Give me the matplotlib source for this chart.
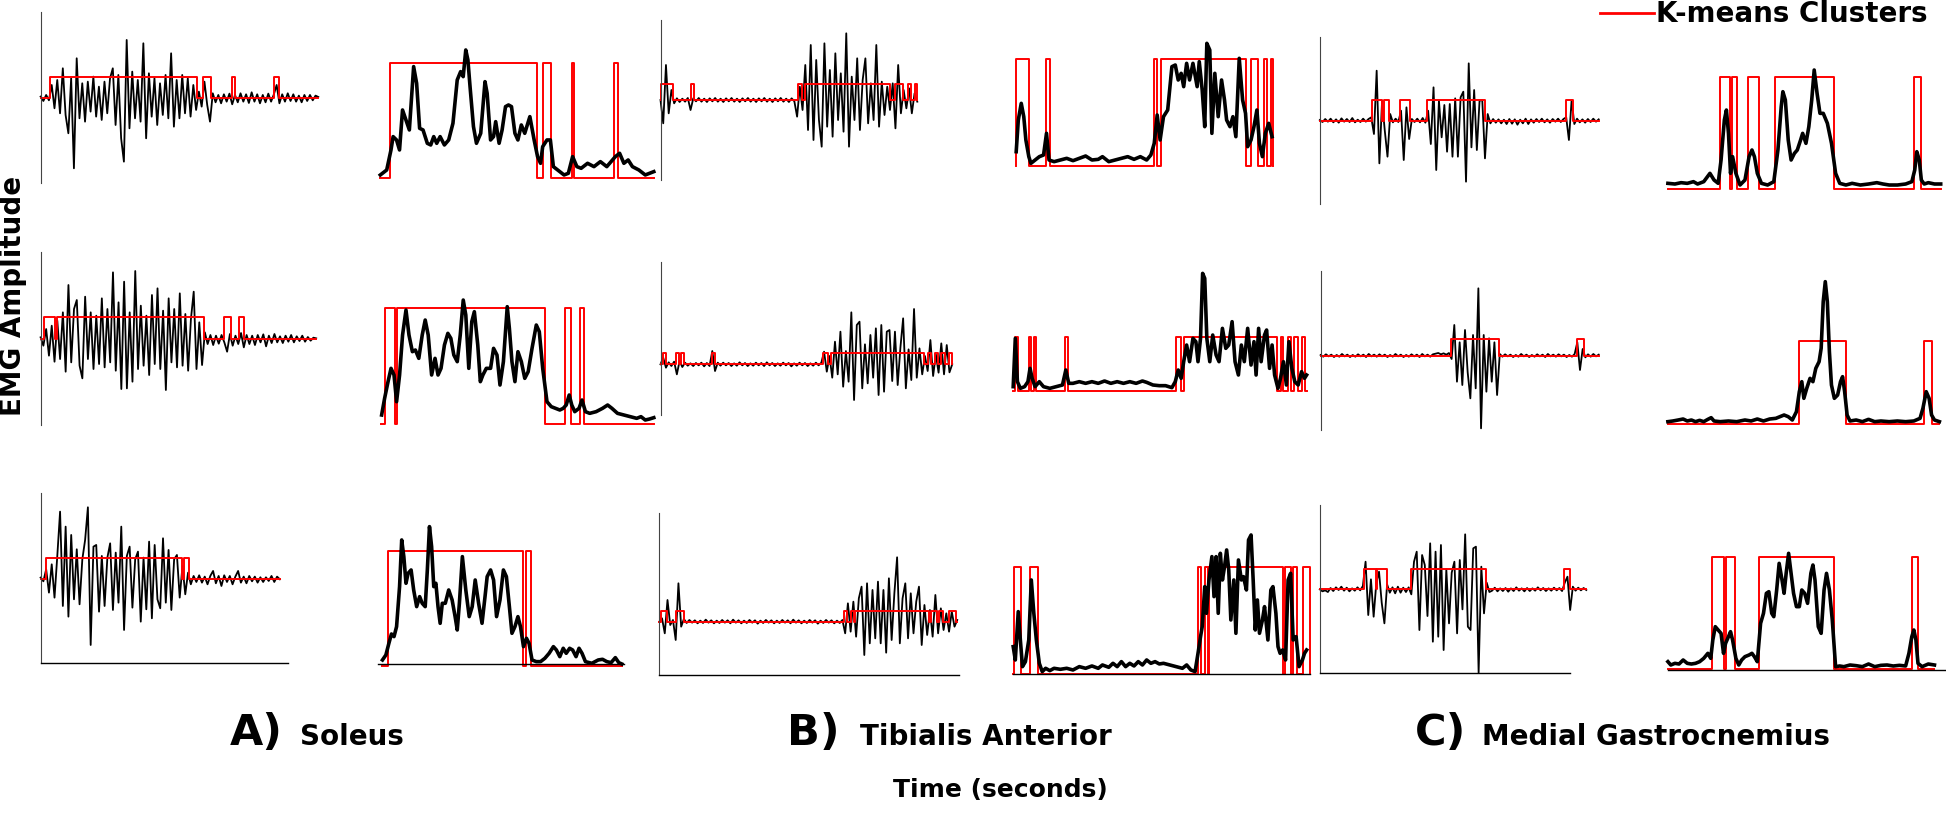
import numpy as np
import matplotlib
matplotlib.use("Agg")
from matplotlib import pyplot as plt
from matplotlib.lines import Line2D

W, H = 1946, 814   # output size in pixels (dpi 100)

# ---------------- data (arbitrary amplitude units, time in ms from trace start) ----------------
# Soleus
sol1_raw = [5, -8, 10, -6, 40, -30, 55, -45, 90, -50, -105, 60, -210, 120, -60, 45, -70, 50, -40, 65,
            -55, 35, -65, 50, -45, 60, 90, -80, 70, -120, -190, 175, -90, 80, -60, 55, -70, 165, -120, 75,
            -55, 60, -80, 45, -50, 70, -60, 135, -85, 55, -60, 70, -45, 60, -55, 40, -35, 20, -25, 50,
            -20, -70, 15, -12, 10, -15, 12, -10, 14, -18, 10, -12, 15, -10, 12, -14, 18, -10, 12, -15,
            10, -12, 14, -10, 12, 40, -15, 12, -10, 15, -8, 12, -10, 8, -12, 10, -8, 10, -6, 8, 4]
sol1_on = [(23, 367), (380, 400), (449, 454), (547, 557)]
sol1_env_t = [0, 15, 25, 30, 38, 45, 52, 60, 68, 78, 85, 92, 100, 110, 118, 125, 132, 140, 150, 160,
              170, 180, 188, 194, 200, 205, 210, 218, 225, 235, 245, 250, 258, 265, 270, 278, 285, 293, 300, 307,
              315, 322, 330, 338, 350, 360, 368, 375, 380, 390, 398, 405, 415, 430, 440, 450, 460, 470, 485, 500,
              515, 530, 550, 560, 570, 580, 590, 605, 620, 640]
sol1_env = [10, 25, 85, 125, 115, 85, 205, 175, 145, 335, 285, 150, 145, 105, 100, 125, 105, 125, 100, 115,
            165, 295, 320, 305, 385, 355, 275, 155, 105, 135, 290, 255, 115, 125, 170, 105, 145, 215, 220, 215,
            135, 115, 160, 135, 185, 115, 65, 45, 95, 115, 115, 35, 25, 10, 15, 65, 35, 30, 45, 35,
            50, 35, 65, 75, 45, 55, 35, 25, 10, 20]

sol2_raw = [5, -20, 30, -50, 40, -68, 55, -60, 80, -98, 162, -70, 90, 117, -80, -118, 127, -60, 80, -90,
            70, -75, 122, -85, 90, -70, 200, -95, 110, -150, 172, -148, 80, -128, 204, -90, 100, -80, 70, -108,
            132, -75, 152, -90, 85, -153, 122, -70, 90, -85, 137, -80, 75, -95, 60, 142, -90, 50, -78, 20,
            -15, 12, -18, 10, -14, 12, -10, -38, 15, -20, 10, -15, 18, -25, 12, -15, 10, -18, 12, -10,
            14, -22, 10, -12, 15, -10, 8, -12, 10, -8, 12, -10, 8, -6, 10, -8, 6, -5, 4, 2]
sol2_on = [(8, 33), (38, 383), (430, 445), (465, 475)]
sol2_env_t = [1, 8, 16, 23, 30, 36, 43, 50, 58, 65, 73, 80, 88, 96, 103, 110, 118, 126, 133, 140,
              148, 156, 163, 170, 178, 185, 192, 198, 205, 212, 218, 226, 232, 238, 246, 256, 263, 271, 278, 286,
              295, 300, 306, 313, 320, 328, 336, 344, 353, 363, 370, 378, 388, 398, 408, 418, 426, 433, 440, 446,
              453, 463, 470, 478, 488, 503, 518, 530, 540, 553, 568, 583, 598, 608, 618, 628, 638]
sol2_env = [27, 77, 127, 167, 147, 67, 147, 267, 342, 267, 217, 222, 197, 267, 312, 267, 147, 197, 147, 167,
            237, 272, 257, 207, 187, 267, 372, 327, 167, 307, 337, 237, 127, 147, 167, 167, 227, 207, 117, 187,
            352, 287, 187, 127, 217, 187, 137, 157, 227, 297, 277, 167, 67, 52, 47, 42, 47, 57, 87, 57,
            37, 47, 72, 37, 32, 37, 47, 57, 47, 32, 27, 22, 17, 22, 12, 15, 19]

sol3_raw = [5, -6, 30, -40, 45, -55, 70, 203, -80, 158, -112, 133, -60, 90, -75, 60, 118, 216, -197, 98,
            103, -97, 70, -80, 65, 108, -92, 80, -70, 158, -152, 70, 98, -85, 60, 83, -127, 65, -90, 113,
            -117, 103, -60, -87, 123, -70, 88, -92, 60, 73, -55, 40, -45, 20, -15, 10, -8, 12, -10, 8,
            -15, 10, 25, -12, 10, -20, 12, -8, 10, -15, 8, 25, -10, 8, -12, 10, -6, 8, -10, 6,
            -8, 6, -5, 10, -8, 8, 0]
sol3_on = [(13, 330), (336, 347)]
sol3_env_t = [0, 8, 15, 21, 27, 33, 40, 45, 50, 55, 60, 67, 73, 80, 87, 93, 100, 105, 110, 115,
              120, 125, 130, 135, 140, 147, 155, 163, 170, 175, 180, 187, 195, 203, 210, 217, 225, 233, 240, 245,
              253, 260, 267, 275, 283, 290, 297, 303, 310, 317, 323, 330, 337, 343, 350, 360, 370, 380, 390, 400,
              407, 415, 423, 430, 438, 445, 453, 460, 467, 475, 490, 505, 515, 525, 535, 545, 553, 560]
sol3_env = [17, 32, 67, 95, 87, 117, 237, 377, 327, 247, 277, 287, 227, 177, 207, 187, 177, 287, 417, 357,
            237, 247, 177, 127, 187, 187, 227, 197, 147, 107, 187, 327, 227, 147, 177, 257, 187, 127, 207, 267,
            287, 257, 147, 197, 287, 267, 177, 97, 117, 147, 117, 57, 82, 67, 17, 12, 12, 22, 37, 57,
            47, 27, 52, 37, 52, 47, 27, 52, 37, 12, 7, 17, 19, 12, 9, 24, 9, 5]

# Tibialis Anterior
ta1_raw = [0, -70, 105, -40, 30, -10, 5, -6, 4, -5, 6, -30, 5, -4, 6, -5, 4, -6, 5, -4,
           6, -5, 4, -6, 5, -4, 6, -5, 4, -6, 5, -4, 6, -5, 4, -6, 5, -4, 6, -5,
           4, -6, 5, -4, 6, -5, 4, -6, 5, -4, -50, 40, -30, 105, -90, 165, -120, 120, -60, -140,
           170, -80, 90, -110, 140, -60, 80, -95, 200, -140, 70, -60, 125, -90, 60, 125, -70, 50, -60, 165,
           -80, 55, -45, 40, -30, 50, -85, 105, -40, 30, -25, 35, -40, 20, -5]
ta1_on = [(0, 30), (72, 80), (327, 335), (343, 545), (557, 575), (588, 595), (605, 610)]
ta1_env_t = [0, 5, 12, 18, 23, 30, 35, 45, 55, 65, 72, 78, 90, 105, 120, 135, 150, 165, 180, 195,
             205, 220, 235, 250, 265, 280, 295, 310, 320, 328, 335, 342, 350, 360, 370, 378, 385, 392, 398, 405,
             412, 420, 430, 435, 442, 448, 453, 460, 465, 472, 480, 488, 495, 500, 508, 515, 522, 530, 538, 545,
             550, 558, 565, 572, 578, 585, 592, 600, 608]
ta1_env = [43, 138, 188, 148, 78, 28, 8, 18, 28, 33, 98, 18, 13, 18, 23, 16, 23, 30, 18, 20,
           28, 13, 18, 23, 28, 20, 28, 18, 33, 68, 153, 78, 148, 168, 298, 303, 258, 278, 238, 308,
           258, 308, 238, 313, 228, 118, 368, 348, 98, 278, 148, 258, 198, 138, 118, 148, 88, 323, 198, 158,
           58, 78, 118, 168, 68, 28, 98, 128, 88]

ta2_raw = [0, 20, -10, 6, -5, 8, -30, 10, -8, 5, -4, 3, -5, 4, -3, 5, -6, 4, -5, 40,
           -20, 5, -4, 5, -3, 4, -5, 3, -4, 6, -3, 4, -5, 3, -4, 5, -3, 4, -5, 6,
           -3, 4, -5, 3, -4, 5, -3, 4, -6, 3, -4, 5, -3, 4, -5, 3, -4, 5, -3, 5,
           38, -22, 25, -40, 68, -30, 98, -67, 40, -52, 156, -107, 118, 128, -72, 60, -57, 88, -40, 108,
           -92, 118, -82, 98, 103, -50, 98, -62, 50, 138, -72, 45, -47, 166, -40, 48, -30, 25, -20, 73,
           -35, 30, -25, 63, -30, 58, -24, 0]
ta2_on = [(5, 12), (37, 43), (49, 55), (122, 130), (387, 398), (405, 627), (635, 642), (652, 659),
          (667, 677), (685, 693)]
ta2_env_t = [0, 5, 10, 17, 27, 35, 40, 45, 52, 62, 72, 87, 102, 117, 125, 132, 142, 157, 172, 187,
             202, 217, 232, 247, 262, 277, 292, 307, 317, 332, 347, 362, 377, 385, 392, 399, 405, 412, 419, 427,
             434, 439, 445, 450, 455, 460, 467, 474, 482, 489, 497, 505, 512, 520, 527, 535, 542, 549, 557, 565,
             572, 577, 583, 589, 597, 602, 609, 615, 621, 629, 635, 642, 649, 655, 662, 669, 677, 685, 692, 697]
ta2_env = [12, 157, 27, 7, 12, 27, 67, 37, 12, 27, 12, 7, 12, 17, 62, 22, 22, 27, 22, 27,
           22, 29, 22, 27, 22, 27, 22, 29, 25, 17, 15, 15, 9, 27, 62, 37, 87, 137, 87, 157,
           147, 87, 157, 352, 337, 157, 87, 167, 107, 87, 187, 127, 137, 207, 87, 47, 137, 87, 187, 77,
           147, 47, 187, 87, 167, 182, 67, 137, 47, 7, 37, 87, 17, 147, 67, 27, 17, 57, 37, 47]

ta3_raw = [0, 10, -35, 65, -10, 5, -55, 115, -15, 8, -4, 5, -3, 4, -5, 3, -4, 6, -3, 4,
           -5, 3, -4, 5, -3, 4, -5, 6, -3, 4, -5, 3, -4, 5, -3, 4, -6, 3, -4, 5,
           -3, 4, -5, 3, -4, 5, -3, 4, -5, 6, -3, 4, -5, 3, -4, 5, -3, 4, -6, 3,
           -4, 5, -3, 4, -5, 3, -4, 5, -35, 55, -30, 60, -45, 70, 105, -100, 115, -65, 95, -50,
           120, -65, 95, -93, 130, -55, 85, 193, -65, 70, 115, -50, 85, -35, 60, 105, -70, 50, -40, 35,
           -45, 80, -35, 40, -25, 25, -30, 30, -15, 5]
ta3_on = [(3, 18), (39, 58), (440, 447), (455, 462), (464, 640), (646, 660), (665, 673), (688, 704)]
ta3_env_t = [0, 5, 12, 17, 22, 29, 37, 43, 49, 55, 62, 69, 77, 87, 97, 112, 127, 142, 157, 172,
             187, 202, 212, 227, 237, 247, 257, 267, 277, 287, 297, 307, 317, 327, 337, 347, 357, 372, 387, 402,
             412, 422, 432, 439, 445, 449, 455, 459, 465, 472, 477, 482, 487, 492, 497, 502, 507, 512, 517, 524,
             529, 535, 542, 547, 554, 559, 565, 570, 575, 580, 585, 592, 597, 605, 612, 617, 624, 629, 634, 640,
             647, 653, 659, 665, 672, 679, 687, 692, 697]
ta3_env = [83, 43, 188, 103, 23, 38, 103, 283, 183, 103, 33, 8, 18, 11, 18, 15, 18, 13, 23, 18,
           25, 18, 28, 21, 33, 23, 38, 23, 33, 25, 38, 28, 43, 33, 38, 31, 33, 28, 23, 18,
           28, 13, 8, 63, 113, 143, 263, 183, 283, 353, 233, 353, 183, 363, 283, 323, 373, 313, 163, 283,
           123, 343, 283, 293, 253, 403, 418, 283, 133, 223, 123, 163, 203, 103, 253, 263, 183, 83, 63, 73,
           43, 283, 303, 103, 113, 23, 43, 63, 73]

# Medial Gastrocnemius
mg1_raw = [2, -4, 5, -3, 6, -5, 4, -6, 7, -3, 5, -4, 8, -5, 3, -4, 6, -3, 5, 10,
           -40, 150, -128, 60, -30, -108, 20, -5, 6, -4, 30, -118, 40, -55, 5, -4, 6, -5, 8, -6,
           30, -70, 100, -148, 60, -50, 47, -93, 50, -108, 67, -108, 70, 87, -183, 172, -80, 92, -88, 60,
           62, -113, 20, -8, 5, -6, 4, -8, 3, -10, 5, -9, 4, -12, 3, -8, 6, -10, 4, -6,
           5, -4, 6, -5, 4, -6, 5, -3, 6, -4, 5, 10, -58, 62, -10, 6, -5, 4, -6, 5,
           -4, 6, -3, 4]
mg1_on = [(127, 150), (155, 167), (194, 220), (260, 402), (597, 614)]
mg1_env_t = [0, 17, 32, 47, 62, 72, 87, 102, 112, 122, 129, 137, 142, 147, 152, 157, 165, 175, 187, 197,
             204, 210, 217, 227, 242, 257, 267, 275, 279, 285, 292, 299, 307, 314, 322, 327, 335, 342, 349, 355,
             362, 369, 377, 387, 397, 407, 417, 432, 447, 467, 487, 507, 522, 537, 557, 577, 592, 599, 604, 610,
             615, 622, 632, 647, 662]
mg1_env = [17, 15, 19, 17, 22, 15, 22, 47, 27, 17, 87, 207, 237, 167, 47, 97, 47, 12, 27, 97,
           117, 97, 47, 17, 12, 22, 117, 247, 292, 267, 147, 87, 107, 117, 147, 167, 137, 187, 267, 357,
           287, 227, 227, 197, 137, 47, 17, 12, 17, 12, 15, 19, 15, 12, 12, 15, 22, 57, 112, 87,
           27, 15, 19, 15, 15]

mg2_raw = [2, -3, 4, -2, 3, -4, 2, -3, 5, -2, 3, -4, 2, -3, 4, -2, 3, -4, 5, -2,
           3, -3, 4, -2, 3, -4, 2, -3, 5, -2, 3, -4, 2, -3, 4, -2, 3, -4, 5, -2,
           3, -3, 4, 6, 8, 4, 7, 3, 8, -10, 92, -78, 40, -88, 77, -50, -128, 62, -98, 202,
           -218, 62, -108, 52, -78, 40, -118, 5, -3, 4, -2, 3, -4, 2, -3, 5, -2, 3, -4, 2,
           -3, 4, -2, 3, -4, 5, -2, 3, -3, 4, -2, 3, -4, 2, -3, 5, 40, -43, 20, -5,
           4, -3, 5, -2, 3]
mg2_on = [(317, 432), (622, 640)]
mg2_env_t = [0, 12, 25, 37, 47, 57, 67, 77, 87, 97, 105, 112, 127, 147, 167, 187, 202, 217, 232, 247,
             262, 272, 282, 292, 302, 312, 319, 325, 330, 337, 345, 352, 359, 367, 372, 377, 382, 387, 392, 397,
             404, 412, 419, 424, 429, 435, 442, 457, 472, 487, 502, 517, 537, 557, 577, 597, 612, 619, 627, 634,
             640, 647, 659]
mg2_env = [7, 9, 12, 15, 9, 12, 7, 11, 7, 14, 19, 9, 7, 9, 7, 12, 9, 15, 9, 15,
           17, 22, 27, 22, 12, 37, 97, 127, 77, 107, 137, 127, 167, 187, 227, 367, 427, 367, 217, 117,
           77, 87, 127, 142, 97, 27, 9, 12, 7, 14, 7, 9, 7, 9, 7, 9, 17, 47, 97, 77,
           27, 12, 7]

mg3_raw = [0, -6, -3, -8, 4, -5, 6, -2, 8, -4, 5, -6, 3, -4, 6, -3, 10, 83, -77, 30,
           -82, 20, 53, -40, -102, 15, -10, 6, -12, 8, -10, 5, -8, 6, -15, 83, 113, -122, 103, 73,
           -80, 138, -157, 113, -142, 133, -182, 60, -102, 50, 83, -132, 88, -60, 165, -112, -122, 123, 128, -250,
           68, -72, 20, -8, -4, 5, -6, 3, -5, 4, -7, 3, -5, 6, -4, 3, -6, 4, -5, 3,
           -4, 6, -3, 4, -5, 3, -4, 5, -3, 4, -5, 20, 38, -62, 8, -4, 5, -3, 4, -2]
mg3_on = [(107, 137), (140, 164), (222, 404), (592, 607)]
mg3_env_t = [0, 7, 17, 27, 37, 47, 57, 67, 77, 87, 97, 104, 109, 115, 122, 129, 135, 140, 147, 152,
             157, 165, 172, 179, 187, 197, 204, 210, 217, 225, 232, 239, 245, 252, 257, 264, 270, 277, 282, 287,
             293, 299, 305, 312, 319, 325, 332, 339, 347, 352, 357, 365, 372, 379, 385, 392, 399, 407, 417, 427,
             442, 457, 472, 487, 502, 517, 532, 547, 562, 577, 585, 592, 597, 602, 607, 617, 632, 647]
mg3_env = [22, 12, 17, 15, 27, 17, 15, 17, 22, 32, 47, 32, 87, 127, 117, 107, 47, 77, 97, 112,
           87, 32, 12, 27, 37, 42, 47, 37, 22, 137, 167, 227, 232, 167, 157, 237, 317, 267, 227, 287,
           347, 287, 227, 187, 187, 237, 227, 197, 287, 312, 267, 127, 107, 237, 287, 237, 147, 7, 9, 7,
           12, 10, 7, 15, 7, 11, 12, 9, 11, 9, 47, 97, 117, 87, 17, 7, 15, 12]

# trace durations and K-means "active" cluster levels (raw, envelope)
durations = {"sol1": 650, "sol2": 645, "sol3": 560, "ta1": 610, "ta2": 693, "ta3": 708,
             "mg1": 677, "mg2": 675, "mg3": 647}
raw_hi = {"sol1": 65, "sol2": 67, "sol3": 63, "ta1": 48, "ta2": 33, "ta3": 33,
          "mg1": 62, "mg2": 50, "mg3": 60}
env_hi = {"sol1": 347, "sol2": 347, "sol3": 345, "ta1": 320, "ta2": 162, "ta3": 321,
          "mg1": 335, "mg2": 249, "mg3": 335}

muscles = ["A)", "B)", "C)"]
muscle_names = ["Soleus", "Tibialis Anterior", "Medial Gastrocnemius"]

# ---------------- drawing ----------------
fig = plt.figure(figsize=(W / 100, H / 100), dpi=100)


def fx(x):
    return x / W


def fy(y):
    return 1 - y / H


def add_box(x0, y0, x1, y1):
    ax = fig.add_axes([fx(x0), fy(y1), (x1 - x0) / W, (y1 - y0) / H])
    ax.patch.set_visible(False)
    ax.set_xticks([])
    ax.set_yticks([])
    for s in ax.spines.values():
        s.set_visible(False)
    return ax


def cluster_trace(on, hi, t_end):
    t, y = [0], [0]
    for s, e in on:
        t += [s, s, e, e]
        y += [0, hi, hi, 0]
    t.append(max(t_end, t[-1]))
    y.append(0)
    return t, y


def raw_panel(key, raw, on, box, xlim, ylim, bottom=None):
    ax = add_box(*box)
    dur = durations[key]
    t = np.linspace(0, dur, len(raw))
    ax.plot(t, raw, color="black", lw=1.3, clip_on=False)
    ct, cy = cluster_trace(on, raw_hi[key], dur)
    ax.plot(ct, cy, color="red", lw=1.4, clip_on=False)
    ax.set_xlim(*xlim)
    ax.set_ylim(*ylim)
    ax.spines["left"].set_visible(True)
    ax.spines["left"].set_color("#444444")
    ax.spines["left"].set_linewidth(0.8)
    if bottom is not None:
        ax.spines["bottom"].set_visible(True)
        ax.spines["bottom"].set_color("black")
        ax.spines["bottom"].set_linewidth(1.0)
        ax.spines["bottom"].set_bounds(*bottom)
    return ax


def env_panel(key, env_t, env, on, box, xlim, ylim, bottom=False):
    ax = add_box(*box)
    ct, cy = cluster_trace(on, env_hi[key], env_t[-1])
    ax.plot(ct, cy, color="red", lw=1.4, clip_on=False)
    ax.plot(env_t, env, color="black", lw=2.6, solid_joinstyle="round", clip_on=False)
    ax.set_xlim(*xlim)
    ax.set_ylim(*ylim)
    if bottom:
        ax.spines["bottom"].set_visible(True)
        ax.spines["bottom"].set_color("black")
        ax.spines["bottom"].set_linewidth(1.0)
    return ax


# row 1
raw_panel("sol1", sol1_raw, sol1_on, (40.6, 12.3, 318.3, 183.3), (0, 650), (-255, 258))
env_panel("sol1", sol1_env_t, sol1_env, sol1_on, (380.3, 12.3, 653.8, 183.3), (0, 640), (-15, 498))
raw_panel("ta1", ta1_raw, ta1_on, (660.5, 20, 917.3, 180), (0, 610), (-240, 240))
env_panel("ta1", ta1_env_t, ta1_env, ta1_on, (1016.2, 20, 1272.9, 180), (0, 610), (-42, 438))
raw_panel("mg1", mg1_raw, mg1_on, (1319.8, 36.7, 1598.7, 204), (0, 677), (-250, 252))
env_panel("mg1", mg1_env_t, mg1_env, mg1_on, (1667.9, 36.7, 1940.7, 204), (0, 662), (-45, 457))

# row 2
raw_panel("sol2", sol2_raw, sol2_on, (40.6, 251.7, 316.2, 425), (0, 645), (-258, 262))
env_panel("sol2", sol2_env_t, sol2_env, sol2_on, (381.2, 251.7, 653.8, 425), (0, 638), (-3, 517))
raw_panel("ta2", ta2_raw, ta2_on, (660.5, 261.7, 952.2, 415), (0, 693), (-152, 308))
env_panel("ta2", ta2_env_t, ta2_env, ta2_on, (1013.2, 261.7, 1306.6, 415), (0, 697), (-73, 387))
raw_panel("mg2", mg2_raw, mg2_on, (1320.6, 271, 1598.7, 430), (0, 675), (-223, 254))
env_panel("mg2", mg2_env_t, mg2_env, mg2_on, (1667.9, 271, 1939.4, 430), (0, 659), (-18, 459))

# row 3
raw_panel("sol3", sol3_raw, sol3_on, (40.6, 493.3, 288.4, 663.3), (0, 580), (-252, 258), bottom=(0, 580))
env_panel("sol3", sol3_env_t, sol3_env, sol3_on, (378.2, 493.3, 623.9, 664.3), (-10, 565), (4, 517), bottom=True)
raw_panel("ta3", ta3_raw, ta3_on, (659.3, 513.3, 958.5, 675), (0, 711), (-160, 325), bottom=(0, 711))
env_panel("ta3", ta3_env_t, ta3_env, ta3_on, (1013.2, 513.3, 1310, 674.3), (0, 705), (0, 483), bottom=True)
raw_panel("mg3", mg3_raw, mg3_on, (1319.8, 505, 1586.3, 672.7), (0, 647), (-250, 253), bottom=(0, 607))
env_panel("mg3", mg3_env_t, mg3_env, mg3_on, (1667.9, 505, 1946, 670), (0, 675), (-3, 492), bottom=True)

# panel letters and muscle names
letter_right = [283, 840, 1466]
name_left = [300, 860, 1482]
for letter, name, xr, xl in zip(muscles, muscle_names, letter_right, name_left):
    fig.text(fx(xr), fy(745), letter, ha="right", va="baseline", fontsize=31, fontweight="bold")
    fig.text(fx(xl), fy(745), name, ha="left", va="baseline", fontsize=20, fontweight="bold")

fig.text(fx(1000), fy(797), "Time (seconds)", ha="center", va="baseline", fontsize=18, fontweight="bold")
fig.text(fx(13), fy(296), "EMG Amplitude", rotation=90, ha="center", va="center",
         fontsize=20, fontweight="bold")

# legend
fig.add_artist(Line2D([fx(1600), fx(1654)], [fy(13.3), fy(13.3)], color="red", lw=2))
fig.text(fx(1656), fy(22), "K-means Clusters", ha="left", va="baseline", fontsize=20, fontweight="bold")

fig.savefig("out.png", dpi=100)
